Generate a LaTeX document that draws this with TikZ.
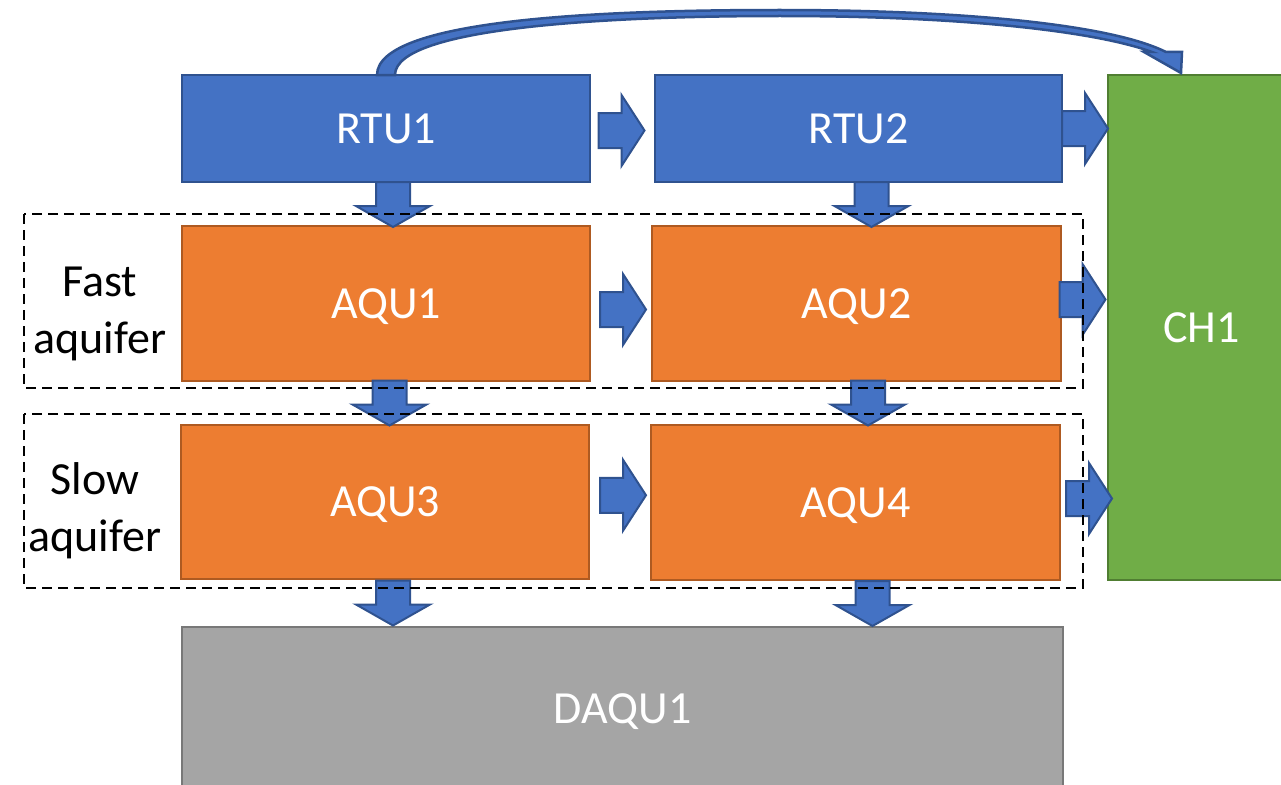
\documentclass[tikz,border=0pt]{standalone}
\usepackage{fontspec}
\setmainfont{Carlito}
\usetikzlibrary{calc}
\definecolor{rtublue}{HTML}{4472C4}
\definecolor{rtuline}{HTML}{2F528F}
\definecolor{aquorange}{HTML}{ED7D31}
\definecolor{aquline}{HTML}{AE5A21}
\definecolor{chgreen}{HTML}{70AD47}
\definecolor{chline}{HTML}{507E32}
\definecolor{daqugray}{HTML}{A5A5A5}
\definecolor{daquline}{HTML}{787878}
\tikzset{
  every node/.style={font=\fontsize{46}{57}\selectfont},
  rtu/.style  = {rectangle, draw=rtuline,  fill=rtublue,    line width=2pt, text=white,
                 inner sep=0pt, align=center, text depth=0pt},
  aqu/.style  = {rectangle, draw=aquline,  fill=aquorange,  line width=2pt, text=white,
                 inner sep=0pt, align=center, text depth=0pt},
  ch/.style   = {rectangle, draw=chline,   fill=chgreen,    line width=2pt, text=white,
                 inner sep=0pt, align=center, text depth=0pt},
  daqu/.style = {rectangle, draw=daquline, fill=daqugray,   line width=2pt, text=white,
                 inner sep=0pt, align=center, text depth=0pt},
  group/.style = {draw=black, line width=2.4pt, dash pattern=on 10pt off 6pt},
  lbl/.style   = {align=center, text=black},
  barrow/.style = {draw=rtuline, fill=rtublue, line width=2pt, line join=miter},
  rarr/.pic = {\path[barrow] (-23,-17.5) -- (0,-17.5) -- (0,-35.5) -- (23,0)
                 -- (0,35.5) -- (0,17.5) -- (-23,17.5) -- cycle;},
  darr/.pic = {\path[barrow] (-17,-22.5) -- (17,-22.5) -- (17,1.5) -- (37,1.5)
                 -- (0,22.5) -- (-37,1.5) -- (-17,1.5) -- cycle;},
}

\begin{document}
\begin{tikzpicture}[x=1pt, y=-1pt]
  \clip (0,0) rectangle (1281,784);
  \useasboundingbox (0,0) rectangle (1281,784);

  % ---- response units and channel ----
  \node[rtu, minimum width=408pt, minimum height=107pt] (rtu1) at (386,128.5)  {RTU1};
  \node[rtu, minimum width=407pt, minimum height=107pt] (rtu2) at (858.5,128.5) {RTU2};
  \node[ch,  minimum width=187pt, minimum height=505pt] (ch1)  at (1201.5,327.5) {CH1};

  % ---- aquifers ----
  \node[aqu, minimum width=408pt, minimum height=155pt] (aqu1) at (386,303.5)   {AQU1};
  \node[aqu, minimum width=409pt, minimum height=155pt] (aqu2) at (856.5,303.5) {AQU2};
  \node[aqu, minimum width=408pt, minimum height=154pt] (aqu3) at (385,502)     {AQU3};
  \node[aqu, minimum width=409pt, minimum height=155pt] (aqu4) at (855.5,502.5) {AQU4};
  \node[daqu, minimum width=881pt, minimum height=163pt] (daqu1) at (622.5,708.5) {DAQU1};

  \node[lbl] (fastlbl) at (100,314) {Fast\\aquifer};
  \node[lbl] (slowlbl) at (95,511)  {Slow\\aquifer};

  % ---- lateral flows ----
  \pic (r12)  at ($(rtu1.east)!0.5!(rtu2.west)+(-1,2)$) {rarr};
  \pic (r2c)  at ($(rtu2.east)!0.5!(rtu2.east -| ch1.west)$) {rarr};
  \pic (a12)  at ($(aqu1.east)!0.5!(aqu2.west)+(2,6)$) {rarr};
  \pic (a2c)  at ($(aqu2.east)!0.5!(aqu2.east -| ch1.west)+(-2,-4)$) {rarr};
  \pic (a34)  at ($(aqu3.east)!0.5!(aqu4.west)+(3,-7)$) {rarr};
  \pic (a4c)  at ($(aqu4.east)!0.5!(aqu4.east -| ch1.west)+(5,-4)$) {rarr};

  % ---- vertical flows ----
  \pic (r1a1) at ($(rtu1.south)!0.5!(aqu1.north)+(7,0.5)$)  {darr};
  \pic (r2a2) at ($(rtu2.south)!0.5!(aqu2.north)+(14,0.5)$) {darr};
  \pic (a1a3) at ($(aqu1.south)!0.5!(aqu3.north)+(4,0)$)    {darr};
  \pic (a2a4) at ($(aqu2.south)!0.5!(aqu4.north)+(12,0)$)   {darr};
  \pic (a3d)  at ($(aqu3.south)!0.5!(aqu3.south |- daqu1.north)+(8,0)$)  {darr};
  \pic (a4d)  at ($(aqu4.south)!0.5!(aqu4.south |- daqu1.north)+(17,0)$) {darr};

  % ---- bypass RTU1 -> CH1 ----
  \path[barrow, line width=2.5pt] (377,75) .. controls (377,17) and (620,10) .. (780,10)
        .. controls (960,10) and (1110,24) .. (1166,52)
        -- (1182,52) -- (1181,73) -- (1144,52) -- (1152,52)
        .. controls (1095,31) and (960,16) .. (780,16)
        .. controls (620,16) and (395,26) .. (395,75) -- cycle;

  % ---- aquifer groups ----
  \draw[group] (24,214) rectangle (1083,388);
  \draw[group] (24,414) rectangle (1083,588);
\end{tikzpicture}
\end{document}
